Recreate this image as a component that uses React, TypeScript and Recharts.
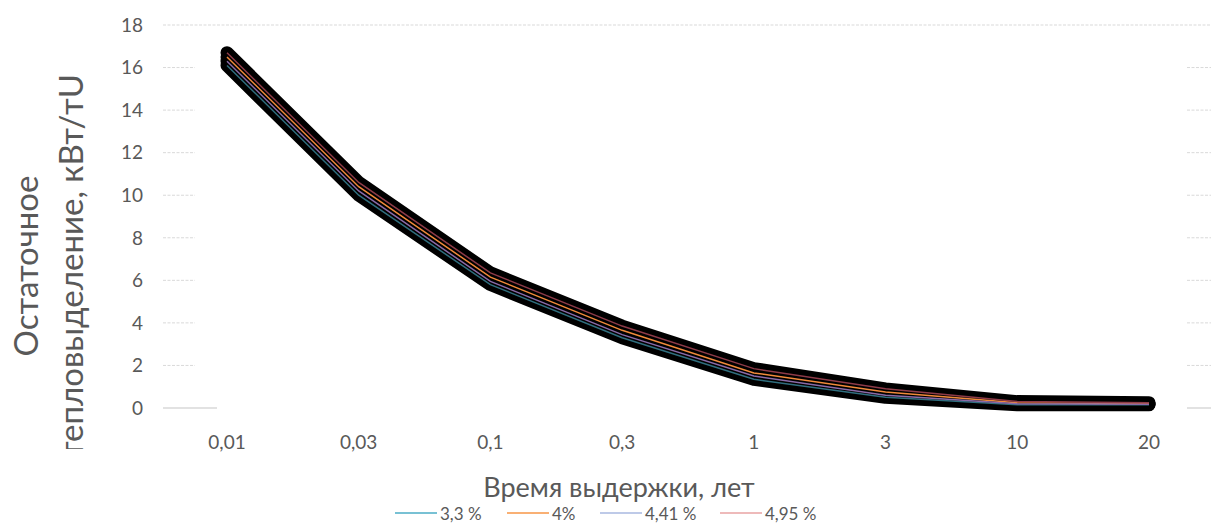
import React from 'react';
import { LineChart, Line, XAxis, YAxis, CartesianGrid, Customized } from 'recharts';

// categories (years of cooling) and decay heat per enrichment, kW/tU
const years = ['0,01', '0,03', '0,1', '0,3', '1', '3', '10', '20'];
const s33 = [16.1, 10.0, 5.8, 3.3, 1.35, 0.5, 0.15, 0.15];
const s4 = [16.5, 10.4, 6.15, 3.65, 1.65, 0.75, 0.25, 0.2];
const s441 = [16.3, 10.2, 5.95, 3.45, 1.5, 0.6, 0.2, 0.18];
const s495 = [16.7, 10.6, 6.35, 3.85, 1.85, 0.9, 0.3, 0.25];
const yTicks = [0, 2, 4, 6, 8, 10, 12, 14, 16, 18];

const seriesNames = ['3,3 %', '4%', '4,41 %', '4,95 %'];
const legendColors = ['#4bacc6', '#f79646', '#a9b8e0', '#e8a3a3'];
const plotColors = ['#2f6e7e', '#f08a3a', '#8a6aa8', '#8e3b48'];
const keys = ['s33', 's4', 's441', 's495'];

const data = years.map((y, i) => ({
  name: y,
  s33: s33[i],
  s4: s4[i],
  s441: s441[i],
  s495: s495[i],
}));

const FONT = 'Lato, "Open Sans", sans-serif';
const GREY = '#595959';

// only the outer ends of the gridlines show in the source (except the top one)
const GridLine = (props: any) => {
  const { x1, x2, y1, y2 } = props;
  if (y1 < 30) {
    return <line x1={x1} x2={x2} y1={y1} y2={y2} stroke="#d9d9d9" strokeDasharray="3 1.5" />;
  }
  if (y1 > 400) {
    return (
      <g>
        <line x1={x1} x2={x1 + 54} y1={y1} y2={y2} stroke="#d9d9d9" strokeWidth={1.5} />
        <line x1={x2 - 24} x2={x2} y1={y1} y2={y2} stroke="#d9d9d9" strokeWidth={1.5} />
      </g>
    );
  }
  return (
    <g>
      <line x1={x1} x2={x1 + 32} y1={y1} y2={y2} stroke="#d9d9d9" strokeDasharray="3 1.5" />
      <line x1={x2 - 24} x2={x2} y1={y1} y2={y2} stroke="#d9d9d9" strokeDasharray="3 1.5" />
    </g>
  );
};

const legendX = [395, 507, 600, 720];

const Titles = () => (
  <g fontFamily={FONT} fill={GREY}>
    <defs>
      <clipPath id="ylab">
        <rect x={0} y={0} width={120} height={449} />
      </clipPath>
    </defs>
    <g clipPath="url(#ylab)">
      <text x={25} y={266} transform="rotate(-90 25 266)" textAnchor="middle" dominantBaseline="central" fontSize={33}>
        Остаточное
      </text>
      <text x={70} y={266} transform="rotate(-90 70 266)" textAnchor="middle" dominantBaseline="central" fontSize={33}>
        тепловыделение, кВт/тU
      </text>
    </g>
    <text x={619} y={486} textAnchor="middle" dominantBaseline="central" fontSize={27}>
      Время выдержки, лет
    </text>
    {seriesNames.map((n, i) => (
      <g key={n}>
        <line x1={legendX[i]} x2={legendX[i] + 42} y1={513} y2={513} stroke={legendColors[i]} strokeWidth={1.5} />
        <text x={legendX[i] + 45} y={513} dominantBaseline="central" fontSize={17}>
          {n}
        </text>
      </g>
    ))}
  </g>
);

export default function App() {
  return (
    <div style={{ position: 'absolute', left: 0, top: 0, width: 1223, height: 528, background: '#fff' }}>
      <LineChart width={1223} height={528} data={data} margin={{ top: 25, right: 12, bottom: 80, left: 0 }}>
        <CartesianGrid vertical={false} horizontal={GridLine} />
        <XAxis
          dataKey="name"
          height={40}
          padding={{ left: 64, right: 62 }}
          tickLine={false}
          axisLine={false}
          tickMargin={22}
          tick={{ fill: GREY, fontSize: 19, fontFamily: FONT }}
        />
        <YAxis
          width={163}
          domain={[0, 18]}
          ticks={yTicks}
          axisLine={false}
          tickLine={false}
          tickSize={0}
          tickMargin={20}
          tick={{ fill: GREY, fontSize: 19, fontFamily: FONT }}
        />
        {keys.map((k) => (
          <Line
            key={'b' + k}
            dataKey={k}
            stroke="#000"
            strokeWidth={13}
            strokeLinecap="round"
            strokeLinejoin="round"
            dot={false}
            legendType="none"
            isAnimationActive={false}
          />
        ))}
        {keys.map((k, i) => (
          <Line
            key={k}
            dataKey={k}
            name={seriesNames[i]}
            stroke={plotColors[i]}
            strokeWidth={1.5}
            dot={false}
            isAnimationActive={false}
          />
        ))}
        <Customized component={Titles} />
      </LineChart>
    </div>
  );
}
